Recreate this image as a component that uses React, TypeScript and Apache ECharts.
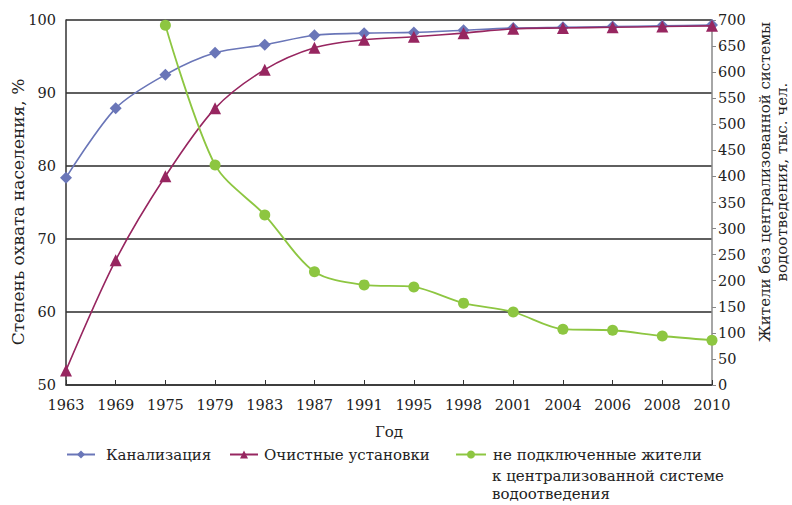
import React, { useEffect, useRef } from "react";
import * as echarts from "echarts";

const years = ["1963", "1969", "1975", "1979", "1983", "1987", "1991", "1995", "1998", "2001", "2004", "2006", "2008", "2010"];
const sewerage = [78.4, 87.9, 92.5, 95.5, 96.6, 97.9, 98.2, 98.3, 98.6, 98.9, 99.0, 99.1, 99.2, 99.3];
const treatment = [52.0, 67.1, 78.6, 87.9, 93.2, 96.2, 97.3, 97.7, 98.2, 98.8, 98.9, 99.0, 99.1, 99.2];
const unconnected = [null, null, 690, 422, 326, 217, 192, 188, 157, 140, 107, 105, 94, 86];

const leftTicks = { min: 50, max: 100, interval: 10 };
const rightTicks = { min: 0, max: 700, interval: 50 };

const NAME_SEWER = "Канализация";
const NAME_TREAT = "Очистные установки";
const NAME_UNCONN = "не подключенные жители к централизованной системе водоотведения";

const FONT = "DejaVu Serif";
const TEXT = "#222";
const FS = 15;
const TICK_FS = 14.5;

export default function App() {
  const ref = useRef<HTMLDivElement>(null);

  useEffect(() => {
    if (!ref.current) return;
    const chart = echarts.init(ref.current, null, { renderer: "svg" });
    const legendText = (pad: number) => ({
      fontFamily: FONT,
      fontSize: FS,
      color: TEXT,
      padding: [0, 0, 0, pad],
    });
    const txt = (extra: object) => ({
      fontFamily: FONT,
      fontSize: FS,
      fill: TEXT,
      ...extra,
    });
    chart.setOption({
      animation: false,
      backgroundColor: "#fff",
      textStyle: { fontFamily: FONT },
      grid: { left: 66, right: 80, top: 20, bottom: 120 },
      xAxis: {
        type: "category",
        data: years,
        boundaryGap: false,
        axisLine: { lineStyle: { color: "#333", width: 1.5 } },
        axisTick: { inside: true, length: 5, lineStyle: { color: "#333" } },
        axisLabel: { color: TEXT, fontFamily: FONT, fontSize: TICK_FS, margin: 12 },
      },
      yAxis: [
        {
          type: "value",
          ...leftTicks,
          axisLine: { show: true, lineStyle: { color: "#333", width: 1.5 } },
          axisTick: { show: false },
          axisLabel: { color: TEXT, fontFamily: FONT, fontSize: TICK_FS, margin: 10 },
          splitLine: { lineStyle: { color: "#2a2a2a", width: 1.5 } },
        },
        {
          type: "value",
          position: "right",
          ...rightTicks,
          axisLine: { show: true, lineStyle: { color: "#888", width: 1.5 } },
          axisTick: { show: true, length: 4, lineStyle: { color: "#888" } },
          axisLabel: { color: TEXT, fontFamily: FONT, fontSize: TICK_FS, margin: 6 },
          splitLine: { show: false },
        },
      ],
      legend: [
        {
          data: [NAME_SEWER],
          left: 66,
          top: 447,
          padding: 0,
          itemWidth: 28,
          itemHeight: 10,
          textStyle: legendText(6),
        },
        {
          data: [NAME_TREAT],
          left: 229,
          top: 447,
          padding: 0,
          itemWidth: 28,
          itemHeight: 10,
          textStyle: legendText(1),
        },
        {
          data: [NAME_UNCONN],
          left: 455,
          top: 447,
          padding: 0,
          itemWidth: 30,
          itemHeight: 10,
          formatter: () => "не подключенные жители",
          textStyle: legendText(2),
        },
      ],
      graphic: [
        {
          type: "text",
          x: 492,
          y: 467,
          style: txt({
            text: "к централизованной системе\nводоотведения",
            lineHeight: 18,
          }),
        },
        {
          type: "text",
          x: 18,
          y: 212,
          rotation: Math.PI / 2,
          style: txt({
            text: "Степень охвата населения, %",
            fontSize: 17,
            align: "center",
            verticalAlign: "middle",
          }),
        },
        {
          type: "text",
          x: 773,
          y: 182,
          rotation: Math.PI / 2,
          style: txt({
            text: "Жители без централизованной системы\nводоотведения, тыс. чел.",
            align: "center",
            verticalAlign: "middle",
            lineHeight: 17,
          }),
        },
        {
          type: "text",
          x: 389,
          y: 432,
          style: txt({ text: "Год", align: "center", verticalAlign: "middle" }),
        },
      ],
      series: [
        {
          name: NAME_SEWER,
          type: "line",
          data: sewerage,
          smooth: 0.3,
          symbol: "diamond",
          symbolSize: 12,
          itemStyle: { color: "#6a76b8" },
          lineStyle: { color: "#6a76b8", width: 1.6 },
          z: 3,
        },
        {
          name: NAME_TREAT,
          type: "line",
          data: treatment,
          smooth: 0.3,
          symbol: "triangle",
          symbolSize: 12,
          itemStyle: { color: "#972660" },
          lineStyle: { color: "#972660", width: 1.6 },
          z: 4,
        },
        {
          name: NAME_UNCONN,
          type: "line",
          yAxisIndex: 1,
          data: unconnected,
          smooth: 0.3,
          symbol: "circle",
          symbolSize: 11,
          itemStyle: { color: "#8dc641" },
          lineStyle: { color: "#8dc641", width: 1.8 },
          z: 5,
        },
      ],
    });
    return () => chart.dispose();
  }, []);

  return (
    <div
      ref={ref}
      style={{ position: "fixed", left: 0, top: 0, width: 792, height: 505 }}
    />
  );
}
